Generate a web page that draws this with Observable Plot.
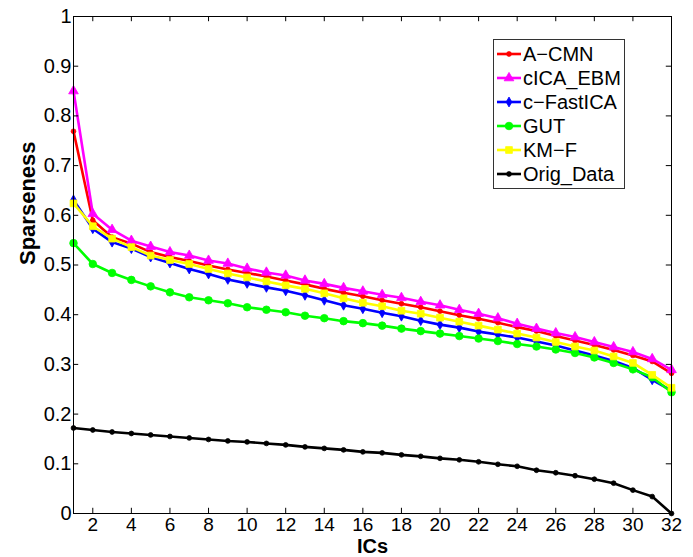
<!DOCTYPE html>
<html><head><meta charset="utf-8">
<script src="https://cdn.jsdelivr.net/npm/d3@7"></script>
<script src="https://cdn.jsdelivr.net/npm/@observablehq/plot@0.6"></script>
<style>
body{margin:0;background:#fff;}
#wrap{position:relative;width:693px;height:557px;font-family:"Liberation Sans",Arial,sans-serif;}
#legend{position:absolute;left:493px;top:39px;width:130px;height:146px;border:1px solid #333;background:#fff;padding-top:2px;box-sizing:content-box;}
.row{height:24px;display:flex;align-items:center;font-size:20px;color:#000;white-space:nowrap;}
.row svg{margin-left:3px;margin-right:2px;}
</style>
</head><body><div id="wrap"><div id="legend"></div></div>
<script>
const ics = [1,2,3,4,5,6,7,8,9,10,11,12,13,14,15,16,17,18,19,20,21,22,23,24,25,26,27,28,29,30,31,32];
const aCMN = [0.769,0.590,0.556,0.543,0.526,0.516,0.508,0.499,0.491,0.484,0.477,0.469,0.461,0.452,0.444,0.437,0.429,0.422,0.415,0.407,0.399,0.392,0.384,0.375,0.367,0.357,0.348,0.339,0.329,0.318,0.306,0.282];
const cICA_EBM = [0.850,0.603,0.571,0.549,0.537,0.526,0.519,0.509,0.503,0.493,0.485,0.479,0.469,0.462,0.454,0.447,0.440,0.434,0.426,0.419,0.410,0.402,0.393,0.382,0.372,0.363,0.355,0.345,0.335,0.325,0.311,0.289];
const cFastICA = [0.631,0.573,0.546,0.533,0.516,0.504,0.492,0.482,0.471,0.463,0.455,0.448,0.439,0.429,0.419,0.412,0.404,0.397,0.388,0.380,0.374,0.366,0.360,0.354,0.346,0.338,0.328,0.318,0.307,0.293,0.269,0.247];
const gut = [0.544,0.502,0.484,0.470,0.457,0.445,0.435,0.429,0.423,0.415,0.410,0.405,0.398,0.393,0.387,0.383,0.378,0.372,0.367,0.362,0.357,0.352,0.347,0.341,0.336,0.330,0.323,0.314,0.303,0.290,0.274,0.244];
const kmF = [0.624,0.578,0.553,0.536,0.519,0.510,0.502,0.492,0.483,0.475,0.467,0.459,0.452,0.443,0.433,0.424,0.417,0.408,0.402,0.394,0.386,0.378,0.370,0.362,0.354,0.345,0.336,0.328,0.316,0.303,0.279,0.253];
const origData = [0.172,0.168,0.164,0.161,0.158,0.155,0.152,0.149,0.146,0.144,0.141,0.138,0.134,0.131,0.128,0.124,0.122,0.118,0.115,0.111,0.108,0.104,0.099,0.095,0.087,0.082,0.076,0.069,0.061,0.047,0.034,0.000];
const seriesNames = ["A\u2212CMN","cICA_EBM","c\u2212FastICA","GUT","KM\u2212F","Orig_Data"];
const seriesValues = [aCMN,cICA_EBM,cFastICA,gut,kmF,origData];
const xTicks = [2,4,6,8,10,12,14,16,18,20,22,24,26,28,30,32];
const yTicks = [0,0.1,0.2,0.3,0.4,0.5,0.6,0.7,0.8,0.9,1];

const colors = ["#ff0000","#ff00ff","#0000ff","#00ff00","#ffff00","#000000"];
const symbols = ["circle","triangle","diamond","circle","square","circle"];
const radii = [2.4,3.6,3.0,3.8,3.8,2.4];

const marks = [];
seriesNames.forEach((name,k)=>{
  const rows = seriesValues[k].map((v,i)=>({ic: ics[i], v, s: name}));
  marks.push(Plot.line(rows,{x:"ic",y:"v",stroke:colors[k],strokeWidth:2.6}));
  marks.push(Plot.dot(rows,{x:"ic",y:"v",symbol:symbols[k],r:radii[k],fill:colors[k],stroke:colors[k],strokeWidth:0.8}));
});

const xTickLen = 0.0105, yTickLen = 0.27;
const chart = Plot.plot({
  width: 693, height: 557,
  marginLeft: 73, marginRight: 22, marginTop: 16, marginBottom: 44,
  style: {fontFamily: '"Liberation Sans", Arial, sans-serif', fontSize: "20px", color: "#000", background: "#fff"},
  x: {domain: [1,32]},
  y: {domain: [0,1]},
  marks: [
    ...marks,
    Plot.frame({stroke:"#000", strokeWidth:1}),
    Plot.ruleX(xTicks,{x:d=>d, y1:0, y2:xTickLen, stroke:"#000"}),
    Plot.ruleX(xTicks,{x:d=>d, y1:1-xTickLen, y2:1, stroke:"#000"}),
    Plot.ruleY(yTicks,{y:d=>d, x1:1, x2:1+yTickLen, stroke:"#000"}),
    Plot.ruleY(yTicks,{y:d=>d, x1:32-yTickLen, x2:32, stroke:"#000"}),
    Plot.axisX({ticks: xTicks, tickSize: 0, tickPadding: 4, tickFormat: d=>String(d), label: null, fontSize: 19}),
    Plot.axisY({ticks: yTicks, tickSize: 0, tickPadding: 2, tickFormat: d=>d===0?"0":d===1?"1":d3.format(".1f")(d), label: null, fontSize: 20}),
    Plot.text(["ICs"],{text:d=>d, frameAnchor:"bottom", lineAnchor:"middle", dy:33, fontWeight:"bold", fontSize:20}),
    Plot.text(["Sparseness"],{text:d=>d, frameAnchor:"left", lineAnchor:"middle", dx:-46, rotate:-90, fontWeight:"bold", fontSize:22})
  ]
});
document.getElementById("wrap").prepend(chart);

const legend = d3.select("#legend");
seriesNames.forEach((name,k)=>{
  const row = legend.append("div").attr("class","row");
  const svg = row.append("svg").attr("width",24).attr("height",24);
  svg.append("line").attr("x1",0).attr("x2",24).attr("y1",12).attr("y2",12).attr("stroke",colors[k]).attr("stroke-width",2.6);
  const sym = {circle:d3.symbolCircle,triangle:d3.symbolTriangle,diamond:d3.symbolDiamond,square:d3.symbolSquare}[symbols[k]];
  svg.append("path").attr("d",d3.symbol(sym, Math.PI*radii[k]*radii[k])()).attr("transform","translate(12,12)").attr("fill",colors[k]).attr("stroke",colors[k]).attr("stroke-width",0.8);
  row.append("span").text(name);
});
</script>
</body></html>
